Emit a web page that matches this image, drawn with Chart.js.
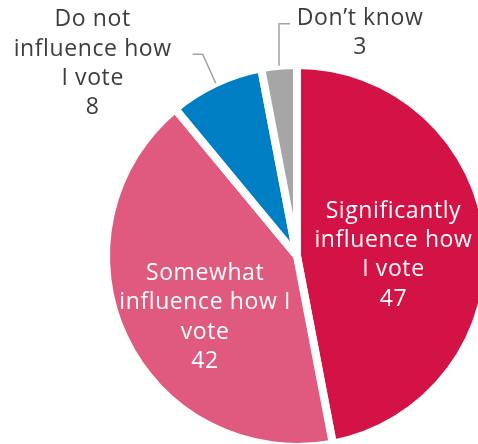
<!DOCTYPE html>
<html>
<head>
<meta charset="utf-8">
<script src="https://cdn.jsdelivr.net/npm/chart.js@4"></script>
<style>
    html, body { margin: 0; padding: 0; background: #fff; overflow: hidden; width: 478px; height: 444px; }
    #wrap { position: absolute; left: 0; top: 0; }
</style>
</head>
<body>
<div id="wrap"><canvas id="chartVoto" width="594" height="512"></canvas></div>
<script>
// Datos de la encuesta
const categories = [
    ['Significantly', 'influence how', 'I vote'],
    ['Somewhat', 'influence how I', 'vote'],
    ['Do not', 'influence how', 'I vote'],
    ['Don\u2019t know']
];
const shares = [47, 42, 8, 3];
const sliceColors = ['#d31245', '#e05a7f', '#007ec4', '#a6a6a6'];

// Ubicación de cada etiqueta: dentro del sector o fuera con línea guía
const labelLayout = [
    { inside: true, dist: 0.505, turn: 4 },
    { inside: true, dist: 0.575, turn: -8 },
    { inside: false, path: [[0, 0], [-13, -29], [-23, -29]], textDx: -100, textDy: 8 },
    { inside: false, path: [[0, 0], [0, -42], [11, -42]], textDx: 70, textDy: 8 }
];

const FONT = '23px "Open Sans", "Noto Sans", sans-serif';
const LINE_H = 29.3;

// ===== ETIQUETAS =====
const pieLabels = {
    id: 'pieLabels',
    afterDatasetsDraw(chart) {
        const ctx = chart.ctx;
        const arcs = chart.getDatasetMeta(0).data;
        ctx.save();
        ctx.font = FONT;
        ctx.letterSpacing = '0.6px';
        ctx.textAlign = 'center';
        ctx.textBaseline = 'alphabetic';

        arcs.forEach((arc, i) => {
            const cfg = labelLayout[i];
            const lines = categories[i].concat(String(shares[i]));
            const mid = (arc.startAngle + arc.endAngle) / 2;
            let cx, cy;

            if (cfg.inside) {
                const a = mid + cfg.turn * Math.PI / 180;
                const r = arc.outerRadius * cfg.dist;
                cx = arc.x + Math.cos(a) * r;
                cy = arc.y + Math.sin(a) * r;
                ctx.fillStyle = '#ffffff';
            } else {
                const r = arc.outerRadius;
                const ex = arc.x + Math.cos(mid) * r;
                const ey = arc.y + Math.sin(mid) * r;
                ctx.strokeStyle = '#a3a3a3';
                ctx.lineWidth = 1.5;
                ctx.beginPath();
                cfg.path.forEach(([dx, dy], k) => {
                    if (k === 0) ctx.moveTo(ex + dx, ey + dy);
                    else ctx.lineTo(ex + dx, ey + dy);
                });
                ctx.stroke();
                const end = cfg.path[cfg.path.length - 1];
                cx = ex + end[0] + cfg.textDx;
                cy = ey + end[1] + cfg.textDy;
                ctx.fillStyle = '#3d3d3d';
            }

            // cy es el centro de las mayúsculas del bloque
            const first = cy - (lines.length - 1) / 2 * LINE_H + 8;
            lines.forEach((txt, k) => {
                ctx.fillText(txt, cx, first + k * LINE_H);
            });
        });
        ctx.restore();
    }
};

new Chart(document.getElementById('chartVoto'), {
    type: 'pie',
    data: {
        labels: categories.map(c => c.join(' ')),
        datasets: [{
            data: shares,
            backgroundColor: sliceColors,
            borderColor: '#ffffff',
            borderWidth: 8
        }]
    },
    options: {
        responsive: false,
        animation: false,
        radius: 191,
        layout: { padding: 0 },
        plugins: {
            legend: { display: false },
            tooltip: { enabled: false }
        }
    },
    plugins: [pieLabels]
});
</script>
</body>
</html>
